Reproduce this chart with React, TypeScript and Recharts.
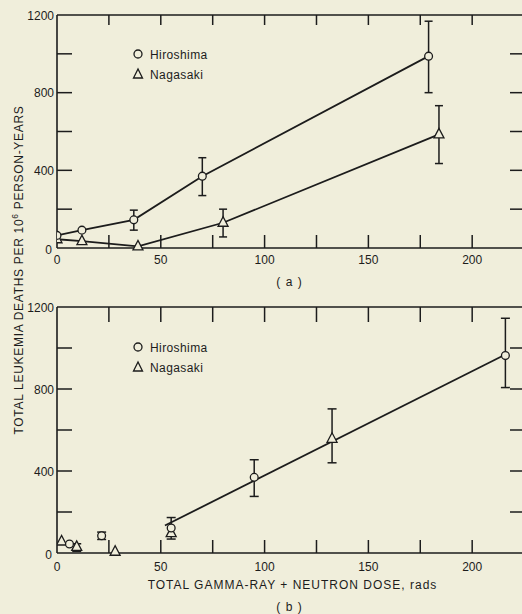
import React from "react";
import { ComposedChart, Line, XAxis, YAxis, ErrorBar, Legend } from "recharts";

const BG = "#f0eedb";
const INK = "#1c1c1c";
const FONT = "'Liberation Sans', Arial, Helvetica, sans-serif";

const SERIES_NAMES = ["Hiroshima", "Nagasaki"];

// panel (a): dose in rads, deaths per 10^6 person-years
const HIRO_A_X = [0, 12, 37, 70, 179];
const HIRO_A_Y = [65, 92, 145, 370, 988];
const HIRO_A_LO = [null, null, 92, 270, 800];
const HIRO_A_HI = [null, null, 195, 465, 1168];

const NAGA_A_X = [0, 12, 39, 80, 184];
const NAGA_A_Y = [45, 35, 8, 130, 585];
const NAGA_A_LO = [null, null, null, 57, 435];
const NAGA_A_HI = [null, null, null, 200, 733];

// panel (b): total gamma-ray + neutron dose
const HIRO_B_X = [6, 21.5, 55, 95, 216];
const HIRO_B_Y = [44, 84, 122, 369, 963];
const HIRO_B_LO = [null, 66, 68, 276, 807];
const HIRO_B_HI = [null, 102, 173, 455, 1145];

const NAGA_B_X = [2.2, 9.5, 28, 55, 132.5];
const NAGA_B_Y = [56, 30, 6, 97, 557];
const NAGA_B_LO = [null, 8, null, null, 440];
const NAGA_B_HI = [null, 45, null, null, 703];

const FIT_B_X = [52, 216];
const FIT_B_Y = [134, 968];

const X_DOMAIN = [0, 224];
const X_TICKS = [0, 25, 50, 75, 100, 125, 150, 175, 200];
const X_LABELS = [0, 50, 100, 150, 200];
const Y_TICKS = [0, 200, 400, 600, 800, 1000, 1200];
const Y_LABELS = [0, 400, 800, 1200];

type Pt = { x: number; y: number; err?: number[] };

function rows(xs: number[], ys: number[], lo?: (number | null)[], hi?: (number | null)[]): Pt[] {
  return xs.map((x, i) => {
    const l = lo ? lo[i] : null;
    const h = hi ? hi[i] : null;
    const p: Pt = { x, y: ys[i] };
    if (l != null || h != null) {
      p.err = [l != null ? ys[i] - l : 0, h != null ? h - ys[i] : 0];
    }
    return p;
  });
}

const CircleDot = (props: any) => {
  const { cx, cy, index } = props;
  if (cx == null || cy == null) return <g key={index} />;
  return <circle key={index} cx={cx} cy={cy} r={3.9} fill={BG} stroke={INK} strokeWidth={1.3} />;
};

const TriangleDot = (props: any) => {
  const { cx, cy, index } = props;
  if (cx == null || cy == null) return <g key={index} />;
  const d = `M${cx},${cy - 6} L${cx - 5},${cy + 3.5} L${cx + 5},${cy + 3.5} Z`;
  return <path key={index} d={d} fill={BG} stroke={INK} strokeWidth={1.3} />;
};

const LegendBox = () => (
  <svg width={100} height={42} style={{ display: "block", overflow: "visible" }}>
    <circle cx={6} cy={10} r={4} fill="none" stroke={INK} strokeWidth={1.3} />
    <text x={18} y={14.5} fontSize={12} fill={INK} fontFamily={FONT} letterSpacing={0.4}>
      {SERIES_NAMES[0]}
    </text>
    <path d="M6,25 L1.5,34 L10.5,34 Z" fill="none" stroke={INK} strokeWidth={1.3} />
    <text x={18} y={35} fontSize={12} fill={INK} fontFamily={FONT} letterSpacing={0.4}>
      {SERIES_NAMES[1]}
    </text>
  </svg>
);

const makeBottomTick = (len: number, dy: number) => (props: any) => {
  const { x, y, payload, index } = props;
  const v = payload.value;
  return (
    <g key={index}>
      {v > 0 && <line x1={x} y1={y} x2={x} y2={y - len} stroke={INK} strokeWidth={1.5} />}
      {X_LABELS.includes(v) && (
        <text x={x} y={y + dy} textAnchor="middle" fontSize={12} fill={INK} fontFamily={FONT}>
          {v}
        </text>
      )}
    </g>
  );
};

const makeTopTick = (len: number) => (props: any) => {
  const { x, y, index } = props;
  return <line key={index} x1={x} y1={y} x2={x} y2={y + len} stroke={INK} strokeWidth={1.5} />;
};

const LeftTick = (props: any) => {
  const { x, y, payload, index } = props;
  const v = payload.value;
  return (
    <g key={index}>
      {v > 0 && v < 1200 && <line x1={x} y1={y} x2={x + 15} y2={y} stroke={INK} strokeWidth={1.5} />}
      {Y_LABELS.includes(v) && (
        <text
          x={v === 0 ? x - 5 : x - 3}
          y={v === 0 ? y + 6 : y + 4.5}
          textAnchor="end"
          fontSize={12}
          fill={INK}
          fontFamily={FONT}
        >
          {v}
        </text>
      )}
    </g>
  );
};

const RightTick = (props: any) => {
  const { x, y, index } = props;
  return <line key={index} x1={x - 12} y1={y} x2={x} y2={y} stroke={INK} strokeWidth={1.5} />;
};

const makeCaption = (title: string | null, tag: string, titleDy: number, tagDy: number) => (props: any) => {
  const vb = props.viewBox || {};
  const cx = vb.x + vb.width / 2;
  return (
    <g>
      {title && (
        <text x={cx + 3} y={vb.y + titleDy} textAnchor="middle" fontSize={12} fill={INK} fontFamily={FONT} letterSpacing={1}>
          {title}
        </text>
      )}
      <text x={cx} y={vb.y + tagDy} textAnchor="middle" fontSize={12} fill={INK} fontFamily={FONT} letterSpacing={1}>
        {tag}
      </text>
    </g>
  );
};

type PanelProps = {
  height: number;
  top: number;
  xAxisHeight: number;
  topTickLen: number;
  bottomTickLen: number;
  labelDy: number;
  caption: (p: any) => React.ReactElement;
  legendTop: number;
  frameData: Pt[];
  children: React.ReactNode;
};

// chart is 1px wider than the page so the right frame axis sits at x = 522
const Panel = ({ height, top, xAxisHeight, topTickLen, bottomTickLen, labelDy, caption, legendTop, frameData, children }: PanelProps) => (
  <ComposedChart width={523} height={height} margin={{ top: top - 1, right: 0, bottom: 0, left: 0 }}>
    <XAxis
      dataKey="x"
      type="number"
      domain={X_DOMAIN}
      ticks={X_TICKS}
      allowDataOverflow
      height={xAxisHeight}
      tickSize={0}
      tickMargin={0}
      tickLine={false}
      axisLine={{ stroke: INK, strokeWidth: 1.6 }}
      tick={makeBottomTick(bottomTickLen, labelDy)}
      interval={0}
      label={{ content: caption }}
    />
    <XAxis
      xAxisId="top"
      dataKey="x"
      orientation="top"
      type="number"
      domain={X_DOMAIN}
      ticks={X_TICKS.slice(1)}
      allowDataOverflow
      height={1}
      tickSize={0}
      tickMargin={0}
      tickLine={false}
      axisLine={{ stroke: INK, strokeWidth: 1.6 }}
      tick={makeTopTick(topTickLen)}
      interval={0}
    />
    <YAxis
      type="number"
      domain={[0, 1200]}
      ticks={Y_TICKS}
      width={57}
      tickSize={0}
      tickMargin={0}
      tickLine={false}
      axisLine={{ stroke: INK, strokeWidth: 1.6 }}
      tick={LeftTick}
      interval={0}
    />
    <YAxis
      yAxisId="right"
      orientation="right"
      type="number"
      domain={[0, 1200]}
      ticks={[200, 400, 600, 800, 1000]}
      width={1}
      tickSize={0}
      tickMargin={0}
      tickLine={false}
      axisLine={false}
      tick={RightTick}
      interval={0}
    />
    <Legend
      layout="vertical"
      align="center"
      verticalAlign="middle"
      content={() => <LegendBox />}
      wrapperStyle={{ left: 132, top: legendTop, width: 100, height: 42 }}
    />
    {/* invisible series so the top and right frame axes get drawn */}
    <Line
      xAxisId="top"
      yAxisId="right"
      data={frameData}
      dataKey="y"
      stroke="none"
      dot={false}
      activeDot={false}
      legendType="none"
      isAnimationActive={false}
    />
    {children}
  </ComposedChart>
);

const hiroA = rows(HIRO_A_X, HIRO_A_Y, HIRO_A_LO, HIRO_A_HI);
const nagaA = rows(NAGA_A_X, NAGA_A_Y, NAGA_A_LO, NAGA_A_HI);
const hiroB = rows(HIRO_B_X, HIRO_B_Y, HIRO_B_LO, HIRO_B_HI);
const nagaB = rows(NAGA_B_X, NAGA_B_Y, NAGA_B_LO, NAGA_B_HI);
const fitB = rows(FIT_B_X, FIT_B_Y);

export default function App() {
  return (
    <div
      style={{
        position: "absolute",
        left: 0,
        top: 0,
        width: 522,
        height: 614,
        background: BG,
        overflow: "hidden",
        fontFamily: FONT,
      }}
    >
      <div style={{ position: "absolute", left: 0, top: 0 }}>
        <Panel
          height={290}
          top={15}
          xAxisHeight={275 - 233}
          topTickLen={10}
          bottomTickLen={13}
          labelDy={16}
          caption={makeCaption(null, "( a )", 0, 38)}
          legendTop={44}
          frameData={hiroA}
        >
          <Line
            data={nagaA}
            dataKey="y"
            name={SERIES_NAMES[1]}
            type="linear"
            stroke={INK}
            strokeWidth={1.8}
            dot={TriangleDot}
            activeDot={false}
            isAnimationActive={false}
          >
            <ErrorBar dataKey="err" direction="y" width={4} stroke={INK} strokeWidth={1.5} />
          </Line>
          <Line
            data={hiroA}
            dataKey="y"
            name={SERIES_NAMES[0]}
            type="linear"
            stroke={INK}
            strokeWidth={1.8}
            dot={CircleDot}
            activeDot={false}
            isAnimationActive={false}
          >
            <ErrorBar dataKey="err" direction="y" width={4} stroke={INK} strokeWidth={1.5} />
          </Line>
        </Panel>
      </div>
      <div style={{ position: "absolute", left: 0, top: 290 }}>
        <Panel
          height={324}
          top={17}
          xAxisHeight={324 - 17 - 246}
          topTickLen={15}
          bottomTickLen={13}
          labelDy={18}
          caption={makeCaption("TOTAL GAMMA-RAY + NEUTRON DOSE, rads", "( b )", 36, 57.5)}
          legendTop={47}
          frameData={hiroB}
        >
          <Line
            data={fitB}
            dataKey="y"
            type="linear"
            stroke={INK}
            strokeWidth={1.8}
            dot={false}
            activeDot={false}
            legendType="none"
            isAnimationActive={false}
          />
          <Line
            data={nagaB}
            dataKey="y"
            name={SERIES_NAMES[1]}
            type="linear"
            stroke="none"
            dot={TriangleDot}
            activeDot={false}
            isAnimationActive={false}
          >
            <ErrorBar dataKey="err" direction="y" width={4.5} stroke={INK} strokeWidth={1.5} />
          </Line>
          <Line
            data={hiroB}
            dataKey="y"
            name={SERIES_NAMES[0]}
            type="linear"
            stroke="none"
            dot={CircleDot}
            activeDot={false}
            isAnimationActive={false}
          >
            <ErrorBar dataKey="err" direction="y" width={4.5} stroke={INK} strokeWidth={1.5} />
          </Line>
        </Panel>
      </div>
      <svg width={40} height={614} style={{ position: "absolute", left: 0, top: 0 }}>
        <text
          transform="translate(22.5, 270) rotate(-90)"
          textAnchor="middle"
          fontSize={12}
          fill={INK}
          fontFamily={FONT}
          letterSpacing={0.7}
        >
          TOTAL LEUKEMIA DEATHS PER 10
          <tspan dy={-5} fontSize={8.5}>
            6
          </tspan>
          <tspan dy={5}> PERSON-YEARS</tspan>
        </text>
      </svg>
    </div>
  );
}
